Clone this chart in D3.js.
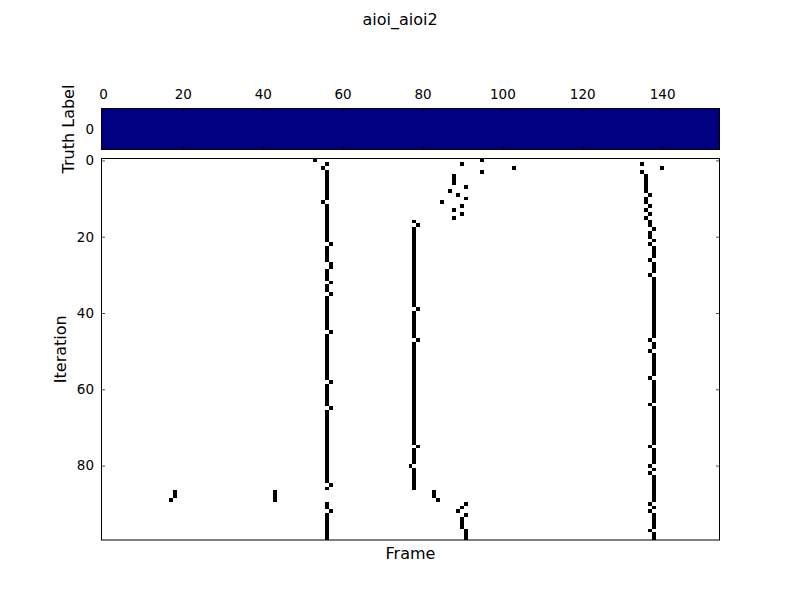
<!DOCTYPE html>
<html>
<head>
<meta charset="utf-8">
<script src="https://cdn.jsdelivr.net/npm/d3@7"></script>
<style>
  body { margin: 0; background: #fff; }
  svg { display: block; font-family: "DejaVu Sans", sans-serif; }
</style>
</head>
<body>
<div id="chart"></div>
<script>
// Chart data
const title = 'aioi_aioi2';
const nFrames = 155;
const nIterations = 100;
const frameTicks = [0, 20, 40, 60, 80, 100, 120, 140];
const iterationTicks = [0, 20, 40, 60, 80];
const truthTicks = [0];

// truth label runs: [firstFrame, lastFrame, label]
const truthRuns = [[0, 154, 0]];
const labelColors = ['#000080'];

// black cells as runs: [frame, firstIteration, lastIteration]
const detections = [
    [53, 0, 0], [56, 1, 1], [55, 2, 2], [56, 3, 10], [55, 11, 11], [56, 12, 21],
    [57, 22, 22], [56, 23, 26], [57, 27, 28], [56, 29, 31], [57, 32, 32], [56, 33, 34],
    [57, 35, 35], [56, 36, 44], [57, 45, 45], [56, 46, 57], [57, 58, 58], [56, 59, 64],
    [57, 65, 65], [56, 66, 84], [57, 85, 85], [56, 86, 86], [56, 90, 91], [57, 92, 92],
    [56, 93, 99],

    [78, 16, 16], [79, 17, 17], [78, 18, 38], [79, 39, 39], [78, 40, 46], [79, 47, 47],
    [78, 48, 74], [79, 75, 75], [78, 76, 79], [77, 80, 80], [78, 81, 86],
    [83, 87, 88], [84, 89, 89], [91, 90, 90], [90, 91, 91], [89, 92, 92], [91, 93, 93],
    [90, 94, 96], [91, 97, 99],

    [95, 0, 0], [90, 1, 1], [103, 2, 2], [95, 3, 3], [88, 4, 6], [91, 7, 7], [87, 8, 8],
    [89, 9, 9], [91, 10, 10], [85, 11, 11], [90, 12, 12], [88, 13, 13], [90, 14, 14],
    [88, 15, 15],

    [135, 1, 1], [140, 2, 2], [135, 3, 3], [136, 4, 8], [137, 9, 9], [136, 10, 11],
    [137, 12, 12], [136, 13, 13], [137, 14, 14], [136, 15, 15], [137, 16, 17], [138, 18, 18],
    [137, 19, 20], [138, 21, 21], [137, 22, 22], [138, 23, 25], [137, 26, 26], [138, 27, 29],
    [137, 30, 30], [138, 31, 46], [137, 47, 47], [138, 48, 49], [137, 50, 50], [138, 51, 56],
    [137, 57, 57], [138, 58, 63], [137, 64, 64], [138, 65, 74], [137, 75, 75], [138, 76, 79],
    [137, 80, 80], [138, 81, 81], [137, 82, 82], [138, 83, 89], [137, 90, 90], [138, 91, 91],
    [137, 92, 92], [138, 93, 96], [137, 97, 97], [138, 98, 99],

    [18, 87, 88], [17, 89, 89], [43, 87, 89]
];

const width = 800, height = 600;
const left = 101, right = 720;
const topPanel = { top: 108.5, bottom: 149.5 };
const mainPanel = { top: 158.5, bottom: 540 };
const tickFont = '13.5px';
const labelFont = '16px';

const svg = d3.select('#chart').append('svg')
    .attr('width', width)
    .attr('height', height);

// Scales
const x = d3.scaleLinear().domain([-0.5, nFrames - 0.5]).range([left, right]);
const yTruth = d3.scaleLinear().domain([-0.5, 0.5]).range([topPanel.top, topPanel.bottom]);
const y = d3.scaleLinear().domain([-0.5, nIterations - 0.5]).range([mainPanel.top, mainPanel.bottom]);

// Title
svg.append('text')
    .attr('x', width / 2)
    .attr('y', 25)
    .attr('text-anchor', 'middle')
    .attr('font-size', labelFont)
    .text(title);

// Truth label strip
svg.append('g')
    .selectAll('rect')
    .data(truthRuns)
    .join('rect')
    .attr('x', d => x(d[0] - 0.5))
    .attr('y', yTruth(-0.5))
    .attr('width', d => x(d[1] + 0.5) - x(d[0] - 0.5))
    .attr('height', yTruth(0.5) - yTruth(-0.5))
    .attr('fill', d => labelColors[d[2]])
    .attr('shape-rendering', 'crispEdges');

// Iteration image
svg.append('g')
    .selectAll('rect')
    .data(detections)
    .join('rect')
    .attr('x', d => x(d[0] - 0.5))
    .attr('y', d => y(d[1] - 0.5))
    .attr('width', d => x(d[0] + 0.5) - x(d[0] - 0.5))
    .attr('height', d => y(d[2] + 0.5) - y(d[1] - 0.5))
    .attr('fill', '#000')
    .attr('shape-rendering', 'crispEdges');

// Axes helper: inward ticks like matplotlib classic
function styleAxis(g, showLabels) {
    g.select('.domain').remove();
    g.selectAll('.tick line').attr('stroke', '#000').attr('stroke-width', 0.7);
    g.selectAll('.tick text')
        .attr('font-size', tickFont)
        .attr('font-family', '"DejaVu Sans", sans-serif')
        .attr('fill', '#000');
    if (!showLabels) g.selectAll('.tick text').remove();
}

const intFmt = d3.format('d');

// Top panel axes
svg.append('g')
    .attr('transform', `translate(0,${topPanel.top})`)
    .call(d3.axisTop(x).tickValues(frameTicks).tickFormat(intFmt).tickSize(-4).tickPadding(10))
    .call(g => styleAxis(g, true));
svg.append('g')
    .attr('transform', `translate(0,${topPanel.bottom})`)
    .call(d3.axisBottom(x).tickValues(frameTicks).tickSize(-4))
    .call(g => styleAxis(g, false));
svg.append('g')
    .attr('transform', `translate(${left},0)`)
    .call(d3.axisLeft(yTruth).tickValues(truthTicks).tickFormat(intFmt).tickSize(-4).tickPadding(7))
    .call(g => styleAxis(g, true));
svg.append('g')
    .attr('transform', `translate(${right},0)`)
    .call(d3.axisRight(yTruth).tickValues(truthTicks).tickSize(-4))
    .call(g => styleAxis(g, false));

// Main panel axes
svg.append('g')
    .attr('transform', `translate(${left},0)`)
    .call(d3.axisLeft(y).tickValues(iterationTicks).tickFormat(intFmt).tickSize(-4).tickPadding(7))
    .call(g => styleAxis(g, true));
svg.append('g')
    .attr('transform', `translate(${right},0)`)
    .call(d3.axisRight(y).tickValues(iterationTicks).tickSize(-4))
    .call(g => styleAxis(g, false));

// Frames
[topPanel, mainPanel].forEach(p => {
    svg.append('rect')
        .attr('x', left + 0.5)
        .attr('y', p.top)
        .attr('width', right - left - 1)
        .attr('height', p.bottom - p.top)
        .attr('fill', 'none')
        .attr('stroke', '#000')
        .attr('stroke-width', 1);
});

// Axis labels
svg.append('text')
    .attr('x', (left + right) / 2)
    .attr('y', 559)
    .attr('text-anchor', 'middle')
    .attr('font-size', labelFont)
    .text('Frame');

svg.append('text')
    .attr('transform', `translate(66,${(mainPanel.top + mainPanel.bottom) / 2}) rotate(-90)`)
    .attr('text-anchor', 'middle')
    .attr('font-size', labelFont)
    .text('Iteration');

svg.append('text')
    .attr('transform', `translate(74,${(topPanel.top + topPanel.bottom) / 2}) rotate(-90)`)
    .attr('text-anchor', 'middle')
    .attr('font-size', labelFont)
    .text('Truth Label');
</script>
</body>
</html>
